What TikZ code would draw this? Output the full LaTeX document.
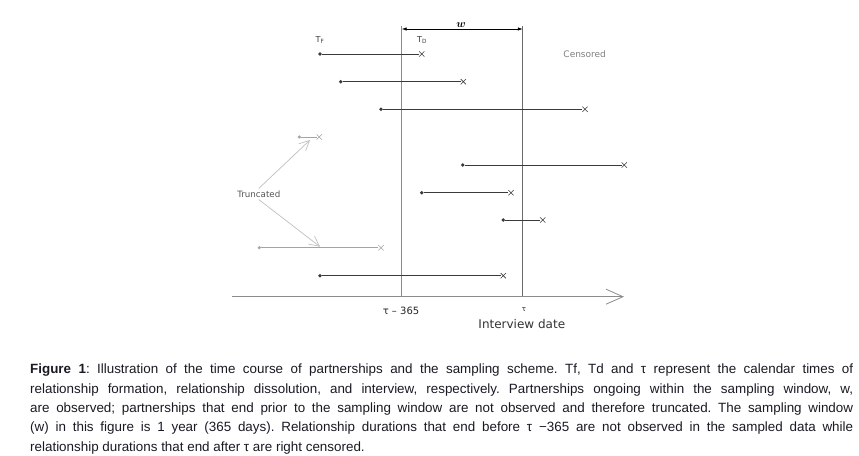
\documentclass[tikz,border=0pt]{standalone}
\usepackage{amsmath}
\usepackage{fontspec}
\setmainfont{Liberation Sans}
\newfontfamily\labelfont{DejaVu Sans}
\usetikzlibrary{arrows.meta, shapes.misc, positioning}

\definecolor{rowgray}{HTML}{3A3A3A}
\definecolor{fadedgray}{HTML}{A4A4A4}
\definecolor{pointgray}{HTML}{C0C0C0}
\definecolor{linegray}{HTML}{8C8C8C}
\definecolor{textgray}{HTML}{555555}
\definecolor{captext}{HTML}{1A1A24}

\tikzset{
  partner/.style={draw=rowgray, line width=0.9pt},
  faded/.style={draw=fadedgray, line width=1pt},
  formed/.style={circle, fill=rowgray, inner sep=0pt, minimum size=3.8pt},
  formedfaded/.style={circle, fill=fadedgray, inner sep=0pt, minimum size=3.4pt},
  ended/.style={cross out, draw=rowgray, line width=0.6pt, inner sep=0pt, minimum size=4.6pt},
  endedfaded/.style={cross out, draw=fadedgray, line width=0.6pt, inner sep=0pt, minimum size=4.6pt},
  window/.style={draw=linegray, line width=0.8pt},
  pointer/.style={draw=pointgray, line width=0.7pt, -{Straight Barb[length=10pt,width=10pt]}},
  tag/.style={font=\labelfont\fontsize{7.5}{9}\selectfont, text=textgray, inner sep=0pt},
  caption/.style={text width=823pt, align=justify, inner sep=0pt, text=captext,
    font=\fontsize{13.4}{19.3}\selectfont\frenchspacing}
}

\begin{document}
\begin{tikzpicture}[x=1pt, y=-1pt]
\useasboundingbox[fill=white] (0,0) rectangle (859,455);

% sampling window and axis
\coordinate (wintop) at (401.7,26);
\coordinate (winbot) at (401.7,296.7);
\coordinate (inttop) at (522.8,26);
\coordinate (intbot) at (522.8,296.7);
\coordinate (axisstart) at (231.7,296.7);
\coordinate (axisend) at (624,296.7);
\draw[window] (wintop) -- (winbot);
\draw[window, draw=gray!85!black, line width=1pt] (inttop) -- (intbot);
\draw[window, -{Straight Barb[length=17pt,width=15pt]}] (axisstart) -- (axisend);

\coordinate (wleft) at (401.7,29);
\coordinate (wright) at (522.8,29);
\draw[line width=0.8pt, {Latex[length=5pt,width=3.5pt]}-{Latex[length=5pt,width=3.5pt]}] (wleft) -- (wright);
\node[inner sep=0pt] (wlabel) at (461,25) {\fontsize{11}{11}\selectfont$\boldsymbol{w}$};

% partnerships
\node[formed] (f1) at (320,54) {};
\node[ended] (d1) at (421.7,54) {};
\draw[partner] (f1) -- (d1);
\node[formed] (f2) at (340.7,81.7) {};
\node[ended] (d2) at (463.3,81.7) {};
\draw[partner] (f2) -- (d2);
\node[formed] (f3) at (381,109.3) {};
\node[ended] (d3) at (585,109.3) {};
\draw[partner] (f3) -- (d3);
\node[formedfaded] (f4) at (299.3,137) {};
\node[endedfaded] (d4) at (319.3,137) {};
\draw[faded] (f4) -- (d4);
\node[formed] (f5) at (462.7,165) {};
\node[ended] (d5) at (624.3,165) {};
\draw[partner] (f5) -- (d5);
\node[formed] (f6) at (421.7,192.7) {};
\node[ended] (d6) at (511,192.7) {};
\draw[partner] (f6) -- (d6);
\node[formed] (f7) at (503.3,220) {};
\node[ended] (d7) at (542.7,220) {};
\draw[partner] (f7) -- (d7);
\node[formedfaded] (f8) at (259.3,247.7) {};
\node[endedfaded] (d8) at (381,247.7) {};
\draw[faded, line width=1.3pt] (f8) -- (d8);
\node[formed] (f9) at (320,275.7) {};
\node[ended] (d9) at (503.3,275.7) {};
\draw[partner] (f9) -- (d9);

% labels
\node[tag, font=\labelfont\fontsize{8.2}{9}\selectfont, text=black!75] (tf) at (320,40) {T\textsubscript{F}};
\node[tag, font=\labelfont\fontsize{8.2}{9}\selectfont, text=black!75] (td) at (422,40) {T\textsubscript{D}};
\node[tag, font=\labelfont\fontsize{9}{10}\selectfont, text=gray] (cens) at (584.7,54) {Censored};
\node[tag, font=\labelfont\fontsize{8.7}{10}\selectfont, inner sep=2pt] (trunc) at (258.8,194) {Truncated};
\coordinate (t4) at (310,140);
\coordinate (t8) at (320,246.7);
\draw[pointer] (trunc.north) -- (t4);
\draw[pointer] (trunc.south) -- (t8);

\node[tag, font=\labelfont\fontsize{10}{11}\selectfont, text=black!85] (lower) at (401,311) {τ – 365};
\node[tag, font=\labelfont\fontsize{7}{8}\selectfont, text=black!85] (tau) at (524,310) {τ};
\node[tag, font=\labelfont\fontsize{12}{13}\selectfont, text=black!80] (intdate) at (521.8,324) {Interview date};

% caption
\node[caption, anchor=north west] (cap) at (30,364) {\textbf{Figure 1}: Illustration of the time course of partnerships and the sampling scheme. Tf, Td and τ represent the calendar times of\linebreak
relationship formation, relationship dissolution, and interview, respectively. Partnerships ongoing within the sampling window, w,\linebreak
are observed; partnerships that end prior to the sampling window are not observed and therefore truncated. The sampling window\linebreak
(w) in this figure is 1 year (365 days). Relationship durations that end before τ −365 are not observed in the sampled data while\linebreak
relationship durations that end after τ are right censored.};

\end{tikzpicture}
\end{document}
